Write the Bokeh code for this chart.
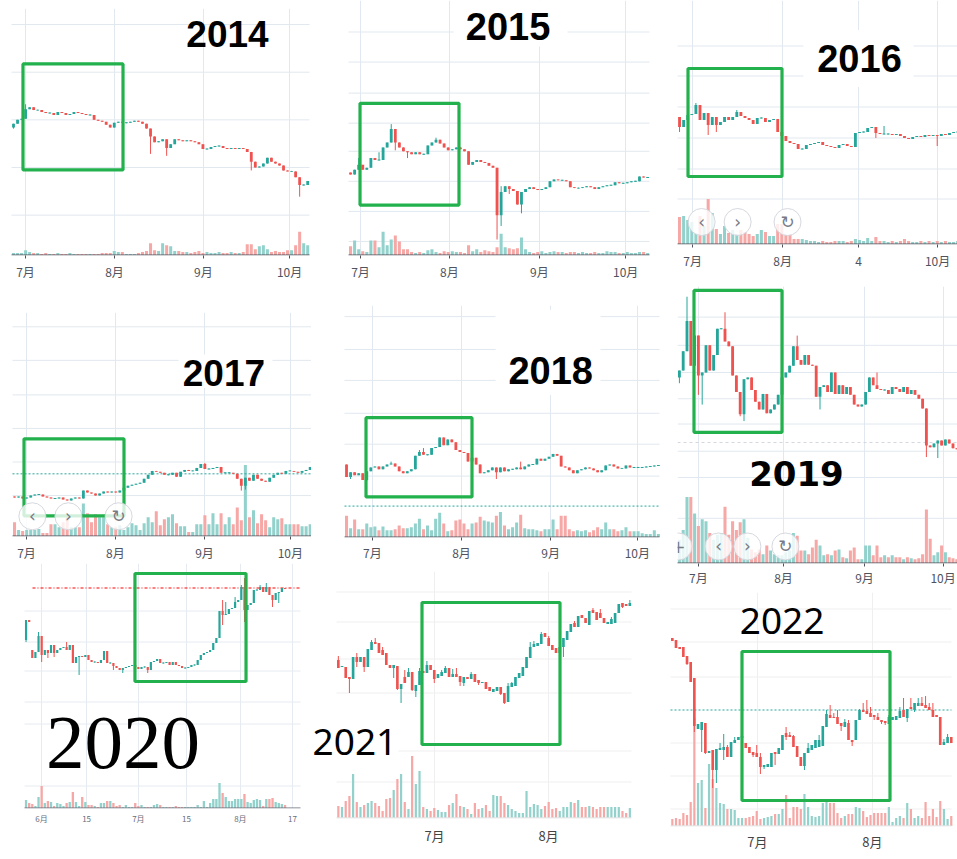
from bokeh.plotting import figure
from bokeh.layouts import row, column
from bokeh.models import Range1d, FixedTicker, Label, ColumnDataSource, LinearAxis
from bokeh.embed import file_html
from bokeh.resources import INLINE
from bokeh.core.properties import value

# ---------------- data (price / volume in chart units, index = trading day) ----------------
C2014 = [135,139,140,150,152,149,149,147,146,146,144,147,146,144,145,147,146,145,144,144,
         139,138,137,134,131,136,137,136,136,137,138,137,135,130,122,116,117,119,110,114,
         119,118,117,118,117,116,114,109,109,111,112,112,110,109,110,109,110,109,106,96,
         90,91,94,100,96,94,92,87,86,86,80,72,72,76]
O2014_FIRST = 131
GAP2014 = {}
HI2014 = {3: 155}
LO2014 = {0: 130, 34: 104, 38: 102, 59: 87, 71: 60}
V2014 = [2,2,2,5,3,2,2,1,2,1, 1,2,1,1,2,1,1,1,1,1, 1,1,2,2,2,4,3,3,1,1, 1,2,3,4,12,5,4,12,10,9,
         4,4,3,3,2,3,4,2,3,2, 2,3,2,2,3,2,2,3,11,11, 6,9,10,6,3,4,3,3,5,5, 10,24,12,10]

C2015 = [83,88,93,88,90,100,98,98,111,116, 130,116,111,107,106,104,106,104,104,113,
         116,119,115,111,108,109,111,109,107,93, 96,98,96,95,92,90,41,65,71,68,
         66,52,65,68,70,68,67,68,70,76, 78,77,77,76,70,69,69,70,71,70,
         68,70,71,72,72,75,74,74,75,76, 76,81,80,80]
O2015_FIRST = 85
GAP2015 = {}
HI2015 = {2: 100, 7: 106, 10: 135, 21: 121, 37: 71}
LO2015 = {11: 108, 14: 100, 36: 16, 37: 30, 39: 63, 42: 43}
V2015 = [9,15,6,4,3,15,15,8,24,10, 16,20,14,6,6,3,2,3,2,5, 6,3,2,4,3,4,3,3,2,10, 4,6,3,5,4,3,8,22,8,7,
         6,7,18,6,3,2,3,4,2,3, 4,3,3,2,3,3,2,3,2,2, 3,2,2,4,3,3,2,2,3,2, 2,3,3,2]

C2016 = [117,124,129,130,139,124,131,119,127,119, 122,127,124,127,132,128,126,124,120,126,
         126,122,124,125,112,108,103,101,100,95, 95,99,100,101,102,99,98,97,96,99,
         100,98,97,111,112,112,116,117,111,110, 110,110,109,110,108,106,105,107,108,107,
         109,108,109,108,110,109,111,112,112]
O2016_FIRST = 127
GAP2016 = {}
HI2016 = {4: 141, 14: 134, 50: 118}
LO2016 = {0: 112, 2: 112, 7: 109, 9: 112, 48: 106, 63: 98}
V2016 = [27,28,24,22,11,28,18,45,31,15, 10,18,11,14,10,14,12,10,8,10, 14,12,8,8,20,20,9,9,5,5,
         5,4,3,3,2,3,2,2,3,3, 3,2,3,5,4,3,6,3,7,3, 3,2,3,2,3,5,3,2,2,3, 2,3,2,3,2,3,2,2,3]

C2017 = [39,40,38,39,41,42,42,40,39,38, 38,39,37,36,38,39,38,46,44,43, 41,43,45,44,45,44,46,49,51,52,
         53,54,58,62,66,65,64,62,62,64, 60,65,67,66,66,69,73,68,68,69, 70,64,64,64,63,58,51,59,56,62,
         58,56,55,59,62,64,63,66,66,65, 64,66,67,70]
O2017_FIRST = 40
GAP2017 = {}
HI2017 = {47: 74}
LO2017 = {56: 46, 57: 47}
V2017 = [14,6,5,6,6,6,7,3,3,12, 12,9,14,19,9,9,9,33,23,14, 22,19,19,12,9,9,11,6,9,13,
         11,6,13,19,14,25,11,17,19,22, 13,10,10,4,4,12,12,21,12,23, 12,23,12,19,12,29,16,72,19,26,
         13,22,16,9,19,17,18,12,12,12, 12,10,10,12]

C2018 = [62,67,64,66,59,68,72,73,70,73, 75,76,73,68,66,68,70,84,88,85, 85,92,93,103,95,101,98,90,88,87,
         78,82,75,66,67,69,72,67,72,68, 70,70,72,70,73,75,75,81,79,81, 83,86,84,73,72,69,66,69,70,72,
         71,69,67,69,74,75,73,71,71,74, 72,72,72,72,73,73,74,74]
O2018_FIRST = 75
GAP2018 = {}
HI2018 = {11: 78, 18: 90, 19: 92, 43: 78}
LO2018 = {1: 60, 5: 58, 37: 60}
V2018 = [22,9,18,8,8,14,10,11,7,11, 7,7,8,12,9,9,10,14,19,8, 12,7,19,25,14,6,7,17,18,14,
         8,14,15,21,17,16,15,22,26,12, 8,10,15,23,9,8,8,7,6,8, 8,18,8,22,22,8,6,7,6,7,
         5,7,10,8,15,8,8,6,7,10, 6,6,6,4,3,3,7,3]

C2019 = [198,218,249,203,234,193,196,224,198,214, 241,241,228,223,193,176,153,189,191,178,
         166,158,174,154,158,163,173,191,196,203, 223,209,204,214,204,203,171,181,183,176,
         196,174,183,174,181,173,163,161,163,176, 191,183,179,178,178,174,181,179,176,181,
         174,178,173,169,159,121,119,123,126,121, 127,123,118,117]
O2019_FIRST = 191
GAP2019 = {}
HI2019 = {2: 274, 12: 258, 31: 234, 52: 196}
LO2019 = {0: 185, 5: 173, 6: 163, 16: 151, 17: 146, 37: 158, 65: 109, 68: 108}
V2019 = [24,34,68,68,51,38,45,43,31,24, 29,31,58,29,43,34,42,45,26,14, 11,14,9,18,13,9,8,8,11,13,
         31,28,13,13,9,16,24,18,8,9, 8,13,14,6,5,13,16,4,4,18, 18,8,18,6,8,6,8,6,6,4,
         6,5,4,5,9,55,25,8,11,18, 11,6,5,4]

C2020 = [188,186,150,156,172,153,158,155,163,155, 158,160,161,158,163,145,151,152,151,153,
         148,146,146,145,148,157,145,145,142,140, 138,140,141,142,143,141,139,141,141,138,
         146,147,149,145,145,146,143,146,143,142, 140,140,141,143,143,148,153,155,156,158,
         165,170,197,193,194,199,200,206,208,221, 198,203,205,218,218,221,216,221,213,208,
         215,216,220,219]
O2020_FIRST = 168
GAP2020 = {2: 158}
HI2020 = {4: 176, 13: 166, 63: 208, 64: 206, 67: 211, 69: 223, 70: 230, 75: 223, 77: 225}
LO2020 = {0: 166, 5: 146, 7: 150, 9: 151, 17: 133, 28: 138, 31: 135, 39: 135, 63: 183, 70: 186, 79: 201, 81: 205}
V2020 = [8,5,4,2,11,22,5,7,6,2, 5,4,2,5,6,16,6,2,11,6, 3,3,2,1,5,5,7,7,5,2, 3,1,3,1,1,5,2,3,1,1,
         1,3,4,3,1,1,1,1,2,1, 1,1,1,1,1,3,1,7,1,5, 9,9,25,15,11,7,7,9,9,9, 14,6,5,8,9,8,2,9,9,10,
         6,5,4,3]

O2021 = [158,151,151,141,139,161,156,161,151,168, 176,175,168,165,153,150,152,129,141,141,
         146,127,133,147,145,153,148,140,142,145, 150,141,144,142,135,141,139,144,138,135,
         136,131,126,127,131,125,116,131,132,140, 142,150,160,171,172,174,185,180,173,170,
         165,171,178,186,195,191,203,200,193,208, 206,205,200,194,194,195,205,215,214,212]
C2021 = [150,152,140,139,161,156,161,151,169,176, 174,165,163,153,150,153,129,134,135,146,
         128,133,147,145,153,148,139,144,146,150, 141,144,141,136,141,139,144,136,135,136,
         129,127,129,131,124,115,132,135,141,145, 151,161,171,174,175,184,181,172,168,165,
         171,180,187,194,191,202,200,195,207,205, 198,200,195,196,199,205,214,211,212,215]
HI2021 = {0: 162, 5: 165, 9: 178, 10: 180, 12: 171, 18: 148, 19: 150, 22: 150, 24: 157, 28: 148,
          29: 152, 31: 149, 32: 150, 36: 146, 43: 131, 46: 135, 47: 136, 49: 145, 52: 176, 53: 177,
          55: 186, 57: 182, 64: 197, 69: 210, 71: 209, 74: 201, 79: 218}
LO2021 = {3: 125, 5: 151, 7: 146, 11: 165, 15: 140, 16: 128, 17: 115, 20: 127, 21: 121, 26: 135,
          33: 132, 34: 132, 38: 133, 44: 123, 45: 114, 60: 163, 61: 161, 77: 210}
V2021 = [12,11,17,22,44,16,11,13,15,17, 15,12,7,19,20,28,39,44,16,9, 62,34,47,11,9,7,10,8,6,6,
         13,15,24,12,11,9,4,15,9,10, 13,7,23,22,22,15,13,9,7,5, 5,27,11,14,13,9,12,16,9,10,
         7,11,11,16,15,18,11,11,12,11, 9,11,11,11,11,11,11,7,5,10]

O2022 = [188,186,179,179,170,164,148,97,96,103, 73,76,56,76,76,79,69,83,86,88,
         83,79,74,73,69,59,59,59,74,72, 76,93,91,90,80,69,60,73,76,78,
         79,80,99,111,109,109,103,99,103,86, 86,106,116,115,113,111,109,106,105,102,
         106,106,108,116,108,119,116,120,123,121, 119,116,111,109,81,83,89]
C2022 = [185,178,177,169,162,144,100,102,104,73, 75,56,77,78,79,69,84,86,89,90,
         78,73,71,69,59,61,62,73,72,78, 91,89,89,79,69,60,73,78,81,86,
         86,100,112,108,108,102,100,104,86,84, 106,116,114,112,109,109,106,104,103,109,
         109,110,115,109,117,117,123,123,120,118, 116,109,109,81,84,89,83]
HI2022 = {13: 83, 14: 92, 15: 81, 17: 89, 19: 93, 23: 81, 24: 73, 31: 99, 32: 94, 33: 91, 37: 83,
          40: 91, 42: 116, 43: 121, 44: 113, 45: 116, 47: 107, 48: 106, 51: 117, 52: 123, 53: 126,
          54: 119, 56: 113, 59: 111, 62: 119, 63: 128, 65: 128, 67: 128, 68: 129, 69: 130, 70: 123,
          71: 123, 74: 87, 75: 92}
LO2022 = {4: 161, 6: 94, 8: 74, 9: 72, 11: 38, 12: 43, 14: 66, 22: 69, 24: 52, 25: 57, 28: 61,
          31: 86, 36: 56, 46: 95, 49: 80, 55: 106, 57: 102, 58: 101, 64: 104, 66: 114}
V2022 = [7,8,7,13,11,24,108,43,46,18, 62,47,38,23,22,17,17,16,8,8, 8,9,10,15,7,8,9,10,12,12,
         17,31,8,19,19,17,32,19,10,9, 10,23,27,23,23,13,8,10,12,12, 19,18,15,9,11,13,13,13,13,19,
         4,8,10,8,23,17,8,10,8,24, 10,17,9,25,17,7,10]

# month ticks (day index) and labels
MONTHS4 = ["7月", "8月", "9月", "10月"]
T2014 = [2.97, 25.06, 47.1, 68.5]
T2015 = [2.45, 24.3, 46.4, 67.6]
T2016 = [3.2, 25.2, 43.75, 63.1]
L2016 = ["7月", "8月", "4", "10月"]
T2017 = [2.96, 24.9, 46.9, 68.1]
T2018 = [6.4, 28.4, 50.4, 71.8]
T2019 = [5.0, 27.4, 48.7, 69.4]
T2020 = [4.95, 19.4, 36.0, 51.4, 68.7, 85.4]
L2020 = ["6月", "15", "7月", "15", "8月", "17"]
T2021 = [26.06, 56.95]
T2022 = [23.2, 54.5]
L2 = ["7月", "8月"]

# horizontal grid levels
G2014 = [41, 90, 139, 188, 237]
G2015 = [14, 45, 76, 107, 136, 167, 199, 230]
G2016 = [45, 75, 106, 137, 168, 198]
G2017 = [41, 75, 109, 143, 178, 212]
G2018 = [63, 96, 128, 162, 194, 228]
G2019 = [46, 88, 115, 143, 169, 196, 224, 253]
G2020 = [22, 84, 106, 137, 166, 197]
G2021 = [36, 67, 125, 159, 196, 226]
G2022 = [17, 50, 83, 149, 184, 217]

# highlighted windows (day0, day1, low, high)
BOX2014 = (2.35, 27.17, 87.5, 196.5)
BOX2015 = (2.33, 26.65, 51.5, 156.5)
BOX2016 = (2.07, 25.05, 67.5, 175.5)
BOX2017 = (2.34, 27.03, 20.5, 98.5)
BOX2018 = (4.81, 30.98, 41.5, 123.5)
BOX2019 = (3.84, 27.0, 134.5, 280.5)
BOX2020 = (34.9, 70.5, 126.5, 234.5)
BOX2021 = (22.67, 60.07, 73.5, 215.5)
BOX2022 = (18.98, 59.31, 25.5, 174.5)

UP, DOWN = "#26a69a", "#ef5350"
UPV, DOWNV = "#93d2cc", "#f6a8a6"
BOXGREEN = "#22b14c"
TV = dict(grid="#e1e8ef", axis="#50535e", lab="#50535e", lsize="12px", aw=1, tick=3)


def chain_opens(closes, first, gaps):
    o = [first] + list(closes[:-1])
    for k, v in gaps.items():
        o[k] = v
    return o


def make_panel(cfg):
    cx0, cy0, cx1, cy1 = cfg["cell"]
    fy0, fy1 = cfg["frame_y"]
    cl, cr = cfg["chart_x"]
    step = cfg["step"]
    fh = fy1 - fy0
    st = cfg["style"]
    xs0 = -0.5 - (cl - cx0) / step
    xs1 = xs0 + (cx1 - cx0) / step
    xr = -0.5 + (cr - cl) / step          # right end of the chart area, in days
    p = figure(width=cx1 - cx0, height=cy1 - cy0, output_backend="svg", toolbar_location=None, tools="",
               x_range=Range1d(xs0, xs1), y_range=Range1d(-0.5, fh - 0.5),
               y_axis_location=None,
               min_border_left=0, min_border_right=0,
               min_border_top=fy0 - cy0, min_border_bottom=cy1 - fy1)
    p.extra_y_ranges = {"vol": Range1d(-0.5, fh - 0.5)}
    p.outline_line_color = None
    p.background_fill_color = "white"
    p.border_fill_color = "white"

    ax = p.xaxis[0]
    ax.ticker = FixedTicker(ticks=cfg["ticks"])
    ax.major_label_overrides = {t: l for t, l in zip(cfg["ticks"], cfg["labels"])}
    ax.axis_line_color = None
    tick = st.get("tick", 0)
    ax.major_tick_line_color = st["axis"] if tick else None
    ax.minor_tick_line_color = None
    ax.major_tick_out = tick
    ax.major_tick_in = 0
    ax.major_label_standoff = cfg["standoff"] - tick
    ax.major_label_text_font = "Noto Sans CJK SC"
    ax.major_label_text_font_size = st["lsize"]
    ax.major_label_text_color = st["lab"]

    if cfg.get("rule") is not None:
        # thin light rule under the month labels
        ax.axis_label = " "
        ax.axis_label_text_font_size = "1px"
        ax.axis_label_standoff = cfg["rule"]
        ax2 = LinearAxis(ticker=FixedTicker(ticks=[]), axis_line_color="#e0e3eb",
                         major_tick_line_color=None, minor_tick_line_color=None,
                         major_tick_out=0, major_tick_in=0, minor_tick_out=0, minor_tick_in=0,
                         major_label_text_font_size="0px", major_label_standoff=0)
        p.add_layout(ax2, "below")

    p.xgrid.ticker = FixedTicker(ticks=cfg["ticks"])
    p.xgrid.grid_line_color = st["grid"]
    p.ygrid.visible = False

    # horizontal grid lines limited to the chart area
    g = cfg["grid"]
    p.segment(x0=[-0.5] * len(g), y0=g, x1=[xr] * len(g), y1=g, line_color=st["grid"], line_width=1)

    opens, closes = cfg["open"], cfg["close"]
    xs, tops, bots, highs, lows, cols, vcols = [], [], [], [], [], [], []
    for i, (o, c) in enumerate(zip(opens, closes)):
        t, b = max(o, c), min(o, c)
        if t - b < 1:
            m = (t + b) / 2.0
            t, b = m + 0.5, m - 0.5
        xs.append(i)
        tops.append(t)
        bots.append(b)
        highs.append(max(t, cfg["hi"].get(i, t)))
        lows.append(min(b, cfg["lo"].get(i, b)))
        up = c >= o
        cols.append(UP if up else DOWN)
        vcols.append(UPV if up else DOWNV)
    src = ColumnDataSource(dict(x=xs, top=tops, bot=bots, high=highs, low=lows,
                                col=cols, vcol=vcols, vol=cfg["vol"]))

    p.vbar(x="x", width=cfg.get("vw", 0.75), top="vol", bottom=0, fill_color="vcol",
           line_color=None, source=src, y_range_name="vol")

    for lvl, colr, dash, start in cfg.get("spans", []):
        p.segment(x0=[start if start is not None else -0.5], y0=[lvl], x1=[xr], y1=[lvl],
                  line_color=colr, line_dash=dash, line_width=1)

    if "wbox" in cfg:
        x0, x1, b0, b1 = cfg["wbox"]
        p.quad(left=[x0], right=[x1], bottom=[b0], top=[b1], fill_color="white", line_color=None)

    p.segment(x0="x", y0="low", x1="x", y1="high", line_color="col", line_width=1, source=src)
    p.vbar(x="x", width=cfg.get("bw", 0.7), top="top", bottom="bot", fill_color="col",
           line_color=None, source=src)

    # x-axis base line over the chart area
    p.segment(x0=[-0.5], y0=[0], x1=[xr], y1=[0], line_color=st["axis"], line_width=st["aw"])

    bx0, bx1, bb, bt = cfg["box"]
    p.quad(left=[bx0], right=[bx1], bottom=[bb], top=[bt], fill_color=None,
           line_color=BOXGREEN, line_width=3.2)

    if "buttons" in cfg:
        bxs, by, glyphs = cfg["buttons"]
        p.scatter(x=bxs, y=[by] * len(bxs), size=27, marker="circle", fill_color="white",
                  fill_alpha=0.8, line_color="#d1d4dc", line_alpha=0.9)
        p.text(x=bxs, y=[by] * len(bxs), text=glyphs, text_align="center", text_baseline="middle",
               text_font=value("DejaVu Sans"), text_font_size="17px", text_color="#787b86")
        if cfg.get("mask"):
            # the chart ends at its left edge: hide what falls outside it
            p.quad(left=[xs0], right=[-0.5], bottom=[1], top=[fh], fill_color="white", line_color=None)

    yx, yy, font, size, style = cfg["year"]
    p.add_layout(Label(x=yx, y=yy, text=cfg["name"], text_align="center", text_baseline="middle",
                       text_font=font, text_font_size=size, text_font_style=style,
                       text_color="black"))
    return p


PANELS = {
    "2014": dict(name="2014", cell=(0, 0, 311, 289), frame_y=(8, 262), chart_x=(11, 309), step=4.03,
                 open=chain_opens(C2014, O2014_FIRST, GAP2014), close=C2014, hi=HI2014, lo=LO2014, vol=V2014,
                 ticks=T2014, labels=MONTHS4, grid=G2014, box=BOX2014, style=TV, standoff=7, rule=3,
                 year=(53.1, 227, "Liberation Sans", "37px", "bold")),
    "2017": dict(name="2017", cell=(0, 289, 311, 563), frame_y=(312, 539), chart_x=(12, 311), step=4.05,
                 open=chain_opens(C2017, O2017_FIRST, GAP2017), close=C2017, hi=HI2017, lo=LO2017, vol=V2017,
                 ticks=T2017, labels=MONTHS4, grid=G2017, box=BOX2017, style=TV, standoff=7,
                 wbox=(40.5, 63.7, 150, 184), spans=[(63, UP, "2 2", None)],
                 buttons=([4.4, 13.3, 25.7], 20, ["‹", "›", "↻"]),
                 year=(51.7, 165.5, "Liberation Sans", "37px", "bold")),
    "2020": dict(name="2020", cell=(0, 563, 311, 859), frame_y=(563, 808), chart_x=(24, 300), step=3.12,
                 open=chain_opens(C2020, O2020_FIRST, GAP2020), close=C2020, hi=HI2020, lo=LO2020, vol=V2020,
                 ticks=T2020, labels=L2020, grid=G2020, box=BOX2020, standoff=4,
                 style=dict(grid="#e6ebf1", axis="#6a6d78", lab="#6a6d78", lsize="8px", aw=1),
                 spans=[(220, "#ff0000", "3 2 1 2", 2.06)],
                 year=(31.1, 65, "Liberation Serif", "77px", "normal")),
    "2015": dict(name="2015", cell=(311, 0, 660, 290), frame_y=(0, 263), chart_x=(348, 649), step=4.07,
                 open=chain_opens(C2015, O2015_FIRST, GAP2015), close=C2015, hi=HI2015, lo=LO2015, vol=V2015,
                 ticks=T2015, labels=MONTHS4, grid=G2015, box=BOX2015, style=TV, standoff=7, rule=4,
                 wbox=(25.3, 53.3, 215, 263),
                 year=(38.7, 235.5, "Liberation Sans", "38px", "bold")),
    "2018": dict(name="2018", cell=(311, 290, 660, 571), frame_y=(305, 545), chart_x=(344, 659), step=4.05,
                 open=chain_opens(C2018, O2018_FIRST, GAP2018), close=C2018, hi=HI2018, lo=LO2018, vol=V2018,
                 ticks=T2018, labels=MONTHS4, grid=G2018, box=BOX2018, style=TV, standoff=6, rule=4,
                 wbox=(36.8, 62.7, 147, 235), spans=[(32, UP, "2 2", None)],
                 year=(50.4, 172.5, "Liberation Sans", "38px", "bold")),
    "2021": dict(name="2021", cell=(311, 571, 660, 859), frame_y=(571, 818), chart_x=(336, 631), step=3.69,
                 open=O2021, close=C2021, hi=HI2021, lo=LO2021, vol=V2021, bw=0.72, vw=0.6,
                 ticks=T2021, labels=L2, grid=G2021, box=BOX2021, standoff=7,
                 style=dict(grid="#efefef", axis="#e3e3e3", lab="#444444", lsize="13px", aw=1.5),
                 wbox=(-7.0, 16.3, 60, 94),
                 year=(4.5, 76, "Noto Sans", "37px", "normal")),
    "2016": dict(name="2016", cell=(660, 0, 957, 286), frame_y=(0, 244), chart_x=(677, 957), step=4.09,
                 open=chain_opens(C2016, O2016_FIRST, GAP2016), close=C2016, hi=HI2016, lo=LO2016, vol=V2016,
                 ticks=T2016, labels=L2016, grid=G2016, box=BOX2016, style=TV, standoff=7,
                 wbox=(30.3, 57.2, 157, 214),
                 buttons=([5.4, 14.2, 26.4], 22, ["‹", "›", "↻"]),
                 year=(44.0, 185.5, "Liberation Sans", "38px", "bold")),
    "2019": dict(name="2019", cell=(660, 286, 957, 592), frame_y=(286, 571), chart_x=(677, 957), step=3.8,
                 open=chain_opens(C2019, O2019_FIRST, GAP2019), close=C2019, hi=HI2019, lo=LO2019, vol=V2019,
                 ticks=T2019, labels=MONTHS4, grid=G2019, box=BOX2019, style=TV, standoff=5, rule=0,
                 bw=0.75, vw=0.8, mask=True,
                 spans=[(124, "#d3d7de", "3 3", None)],
                 buttons=([-0.24, 10.3, 17.9, 27.9], 17, ["+", "‹", "›", "↻"]),
                 year=(30.8, 92.5, "DejaVu Sans", "34px", "bold")),
    "2022": dict(name="2022", cell=(660, 592, 957, 859), frame_y=(592, 826), chart_x=(670, 951), step=3.67,
                 open=O2022, close=C2022, hi=HI2022, lo=LO2022, vol=V2022, bw=0.72, vw=0.6,
                 ticks=T2022, labels=L2, grid=G2022, box=BOX2022, standoff=5,
                 style=dict(grid="#efefef", axis="#e3e3e3", lab="#444444", lsize="13px", aw=1.5),
                 spans=[(116, UP, "2 2", None)],
                 year=(29.9, 205.5, "Noto Sans", "37px", "normal")),
}

figs = {k: make_panel(v) for k, v in PANELS.items()}
layout = row(column(figs["2014"], figs["2017"], figs["2020"]),
             column(figs["2015"], figs["2018"], figs["2021"]),
             column(figs["2016"], figs["2019"], figs["2022"]))

open("out.html", "w").write(file_html(layout, INLINE))
